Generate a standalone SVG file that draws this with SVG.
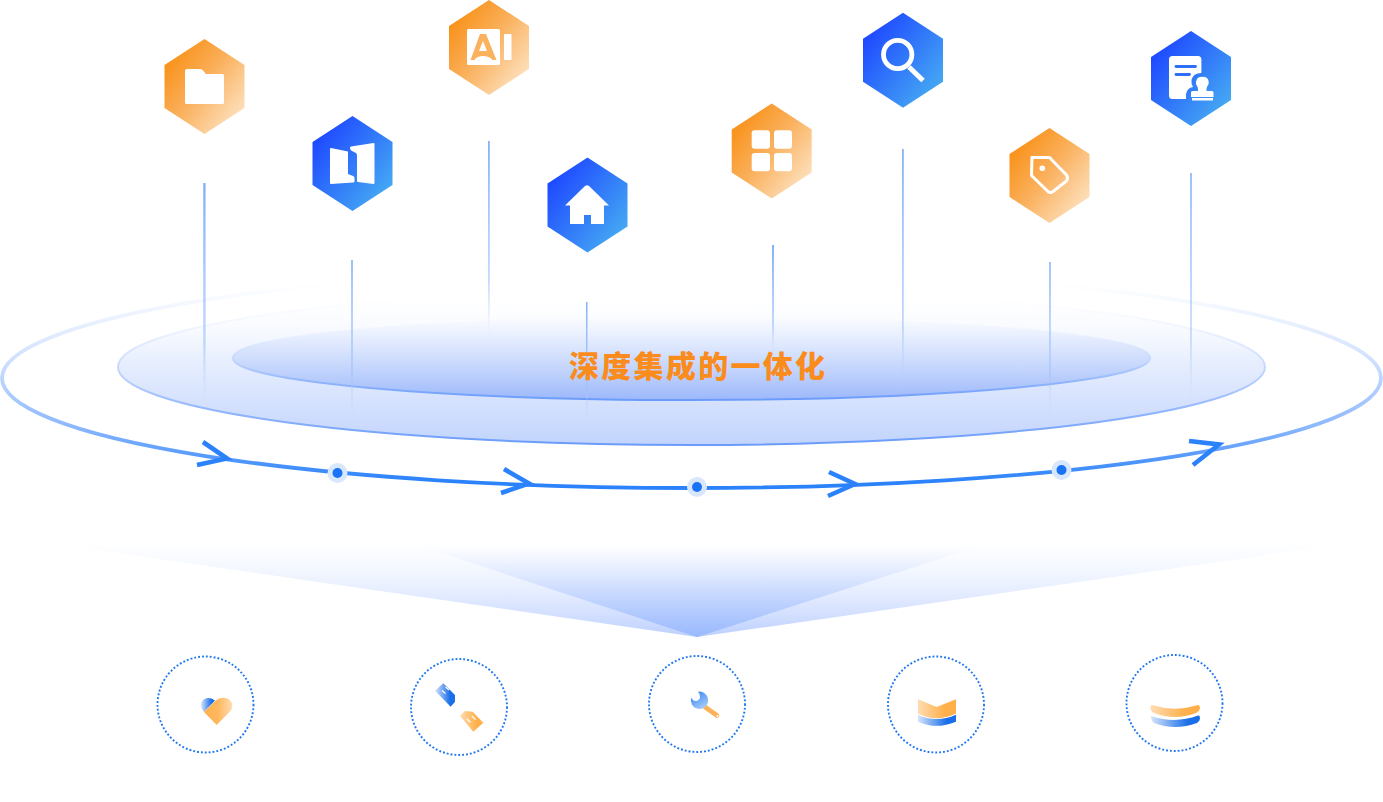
<svg xmlns="http://www.w3.org/2000/svg" width="1383" height="802" viewBox="0 0 1383 802">
<style>
.w{fill:#fff}
.ws{fill:none;stroke:#fff}
.arrow{fill:none;stroke:#2b82fb;stroke-width:4.6}
.halo{fill:#d9e7fc}
.dot{fill:#1a72f5}
.ring{fill:none;stroke:#1f78f0;stroke-width:1.9;stroke-dasharray:1.9 2}
.vl{fill:url(#vline)}
.label{font-family:"Noto Sans CJK SC","Liberation Sans",sans-serif;font-weight:900;font-size:30px;letter-spacing:2.3px;fill:#fa8c1d}
</style>
<defs>
<linearGradient id="org" x1="0.12" y1="0.18" x2="0.88" y2="0.88"><stop offset="0" stop-color="#f9931d"/><stop offset="0.45" stop-color="#fab05c"/><stop offset="1" stop-color="#fde0bd"/></linearGradient>
<linearGradient id="blu" x1="0.12" y1="0.18" x2="0.88" y2="0.88"><stop offset="0" stop-color="#1f4bff"/><stop offset="1" stop-color="#45a9f3"/></linearGradient>
<linearGradient id="vline" x1="0" y1="0" x2="0" y2="1"><stop offset="0" stop-color="#7fadf8" stop-opacity="0.95"/><stop offset="0.72" stop-color="#9dc0fb" stop-opacity="0.6"/><stop offset="1" stop-color="#bcd4fc" stop-opacity="0"/></linearGradient>
<linearGradient id="stO" x1="0" y1="0" x2="0" y2="1"><stop offset="0.07" stop-color="#d6e4ff" stop-opacity="0"/><stop offset="0.42" stop-color="#cfe0ff"/><stop offset="0.72" stop-color="#8cb8fd"/><stop offset="0.97" stop-color="#2b82fb"/></linearGradient>
<linearGradient id="stM" x1="0" y1="0" x2="0" y2="1"><stop offset="0" stop-color="#fff" stop-opacity="0"/><stop offset="0.5" stop-color="#c5d8fd"/><stop offset="1" stop-color="#6a9bfb"/></linearGradient>
<linearGradient id="fiM" x1="0" y1="0" x2="0" y2="1"><stop offset="0" stop-color="#fff" stop-opacity="0"/><stop offset="0.45" stop-color="#e8effe"/><stop offset="1" stop-color="#c2d4fd"/></linearGradient>
<linearGradient id="fiI" x1="0" y1="0" x2="0" y2="1"><stop offset="0" stop-color="#d6e3fe" stop-opacity="0"/><stop offset="0.3" stop-color="#cddcfd" stop-opacity="0.45"/><stop offset="1" stop-color="#9cb8fb"/></linearGradient>
<linearGradient id="fun" x1="0" y1="0" x2="0" y2="1"><stop offset="0" stop-color="#dfe9ff" stop-opacity="0"/><stop offset="1" stop-color="#bccffe"/></linearGradient>
<linearGradient id="fun2" x1="0" y1="0" x2="0" y2="1"><stop offset="0" stop-color="#c8d9ff" stop-opacity="0"/><stop offset="1" stop-color="#9ab9fd"/></linearGradient>
<linearGradient id="iB" x1="0" y1="0" x2="1" y2="0"><stop offset="0" stop-color="#d5e4fb"/><stop offset="0.75" stop-color="#1a6fe8"/></linearGradient>
<linearGradient id="iW" x1="0" y1="0" x2="0.6" y2="1"><stop offset="0" stop-color="#2b7ff0"/><stop offset="1" stop-color="#a5caf8"/></linearGradient>
<linearGradient id="iO" x1="0" y1="0" x2="1" y2="0"><stop offset="0" stop-color="#ffdcb2"/><stop offset="0.7" stop-color="#ffb04a"/></linearGradient>
<linearGradient id="iOr" x1="0" y1="0" x2="1" y2="0"><stop offset="0" stop-color="#ffb04a"/><stop offset="0.5" stop-color="#ffb860"/><stop offset="1" stop-color="#ffdcb2"/></linearGradient>
<path id="hex" d="M0,-47.5L40,-21.5V21.5L0,47.5L-40,21.5V-21.5Z"/>
</defs>

<g id="platform">
<ellipse cx="691.5" cy="378" rx="689.5" ry="110" fill="none" stroke="url(#stO)" stroke-width="3.8"/>
<ellipse cx="691.5" cy="367" rx="573.5" ry="78" fill="url(#fiM)" stroke="url(#stM)" stroke-width="2"/>
<ellipse cx="691.5" cy="358" rx="458.5" ry="42" fill="url(#fiI)" stroke="url(#stM)" stroke-width="2"/>
</g>

<g id="connectors">
<rect class="vl" x="203.2" y="183" width="2.4" height="222"/>
<rect class="vl" x="351.2" y="260" width="1.6" height="160"/>
<rect class="vl" x="488" y="141" width="1.8" height="194"/>
<rect class="vl" x="586" y="302" width="1.5" height="120"/>
<rect class="vl" x="772" y="245" width="2" height="110"/>
<rect class="vl" x="902" y="149" width="1.8" height="246"/>
<rect class="vl" x="1049.2" y="262" width="1.5" height="155"/>
<rect class="vl" x="1190.2" y="173" width="1.6" height="230"/>
</g>

<g id="flow-arrows">
<path class="arrow" d="M203,442L227,458.500L197,465"/>
<path class="arrow" d="M504,469L529,483.500L501,493"/>
<path class="arrow" d="M829,472L855,484L828,496"/>
<path class="arrow" d="M1189,441L1219,444.500L1193,465"/>
</g>

<g id="flow-dots">
<circle class="halo" cx="337.500" cy="473" r="10"/><circle class="dot" cx="337.500" cy="473" r="5"/>
<circle class="halo" cx="697" cy="487" r="10"/><circle class="dot" cx="697" cy="487" r="5"/>
<circle class="halo" cx="1061.500" cy="470" r="10"/><circle class="dot" cx="1061.500" cy="470" r="5"/>
</g>

<text id="title" class="label" x="569" y="377">深度集成的一体化</text>

<g id="funnel">
<path d="M50,543H1350L697,637Z" fill="url(#fun)"/>
<path d="M420,546H980L697,637Z" fill="url(#fun2)"/>
</g>

<g id="node-folder"><use href="#hex" x="204.500" y="86.500" fill="url(#org)"/>
<path class="w" d="M187,69H200Q202,69 203.500,71L206,74H222.500Q224,74 224,75.500V102.500Q224,104 222.500,104H186.500Q185,104 185,102.500V71Q185,69 187,69Z"/></g>

<g id="node-book"><use href="#hex" x="352.500" y="163.500" fill="url(#blu)"/>
<path class="w" d="M330,149Q330,148 331,148L348,151.500V174L353,176Q354.500,176.500 354.500,178V181.500Q354.500,182.500 353,182.500L331,184Q330,184 330,183Z"/>
<path class="w" d="M351,146.500L373.500,143Q374.500,143 374.500,144V183Q374.500,184 373.500,184L358,182Q357,182 357,181V155Q357,153 355,152.500L352,151Q350,150 350,148Q350,146.700 351,146.500Z"/></g>

<g id="node-ai"><use href="#hex" x="489" y="47.500" fill="url(#org)"/>
<rect class="w" x="467" y="29" width="33" height="36" rx="1.500"/>
<rect class="w" x="504" y="34" width="7.500" height="26" rx="1"/>
<path fill="#fbb25f" fill-rule="evenodd" d="M480,34H486L496.500,60H492.500C489,54.500 477,54.500 474.500,60H470.500ZM483,41L479,51H487Z"/></g>

<g id="node-home"><use href="#hex" x="587.500" y="205" fill="url(#blu)"/>
<path class="w" d="M585,186Q587,184.500 589,186L609,205.500H604V224H591V215H584V224H570V205.500H565Z"/></g>

<g id="node-apps"><use href="#hex" x="771.700" y="151" fill="url(#org)"/>
<rect class="w" x="751.700" y="130.300" width="18.300" height="18.500" rx="3"/>
<rect class="w" x="774" y="130.300" width="18" height="18.500" rx="3"/>
<rect class="w" x="751.700" y="153" width="18.300" height="18.300" rx="3"/>
<rect class="w" x="774" y="153" width="18" height="18.300" rx="3"/></g>

<g id="node-search"><use href="#hex" x="903" y="60.300" fill="url(#blu)"/>
<circle class="ws" cx="897.700" cy="54.500" r="14.200" stroke-width="4.800"/>
<path class="ws" stroke-width="5" d="M909,67L923,80.500"/></g>

<g id="node-tag"><use href="#hex" x="1049.500" y="175.500" fill="url(#org)"/>
<path class="ws" stroke-width="3" stroke-linejoin="round" d="M1032,157.500H1049.500L1066.500,175Q1068.500,178 1066.500,181L1053,191.500Q1050.500,193.500 1048,191.500L1031.500,175.500Z"/>
<circle class="w" cx="1042.300" cy="168.300" r="2.800"/></g>

<g id="node-stamp"><use href="#hex" x="1191" y="78.500" fill="url(#blu)"/>
<path class="w" d="M1172.500,56H1198Q1201.400,56 1201.400,59.500V73Q1193,73 1191.500,80Q1191,84 1193,87Q1187,88 1186,94V99H1172.500Q1169,99 1169,95.500V59.500Q1169,56 1172.500,56Z"/>
<path fill="none" stroke="#2f6ff8" stroke-width="2.800" stroke-linecap="round" d="M1176,66.500H1195.500M1176,74.500H1189.500"/>
<path class="w" d="M1198,91V89Q1198,87.500 1197,86Q1195.500,84 1196,82Q1196.500,76.700 1202.400,76.700Q1208.500,76.700 1208.700,82Q1209,84 1207.500,86Q1206.500,87.500 1206.500,89V91H1212Q1213.500,91 1213.500,92.500V97H1191V92.500Q1191,91 1192.500,91Z"/>
<rect class="w" x="1192" y="98" width="21" height="2.500"/></g>

<g id="node-heart"><circle class="ring" cx="205.500" cy="704.500" r="48"/>
<path fill="url(#iB)" d="M204,712L201.500,708Q200,703 203,700Q208,696 215,700.500Z"/>
<path fill="url(#iOr)" d="M204,712L214,702Q218.500,697.500 224,697.700Q232,698.500 232.300,706Q232.300,709 230,711.500L216.700,725Z"/></g>

<g id="node-ruler"><circle class="ring" cx="459" cy="707" r="48"/>
<path fill="url(#iB)" d="M443.300,683.300L455,695V701.700L450.700,706.700L435,690.700Z"/>
<path fill="url(#iO)" d="M460,716L465,711L472.700,711.700L483.300,722.700L473.300,731.700Z"/>
<path class="ws" stroke-width="1.200" d="M442,690.500L445.500,693.500M445.500,687L449,690M467,719L470.500,722.500M472,716L475.500,719.500"/></g>

<g id="node-wrench"><circle class="ring" cx="697" cy="704" r="48"/>
<path fill="none" stroke="#fdb25a" stroke-width="4.600" stroke-linecap="round" d="M705,707L717,715.500"/>
<path fill="url(#iW)" d="M698,691.700A8.700,8.700 0 1 1 691.200,697.500Q693,701 696,701Q700,700 700,697Q700,693.500 698,691.700Z"/>
<circle class="w" cx="717.500" cy="716" r="1"/></g>

<g id="node-layers"><circle class="ring" cx="936" cy="704.500" r="48"/>
<path fill="url(#iO)" d="M918,699.300L936.600,707L956,699.300V713.500Q936,723 918,713.500Z"/>
<path fill="url(#iB)" d="M918,714.700Q936,723.500 956,714.700V721.700Q936,730 918,721.700Z"/></g>

<g id="node-stack"><circle class="ring" cx="1174.500" cy="703" r="48"/>
<path fill="url(#iO)" d="M1150.500,707Q1151,704 1154,705.500Q1175,712 1196,705.500Q1199.500,704 1200,707.500Q1200,711 1196,713Q1175,721 1154,713Q1150,711 1150.500,707Z"/>
<path fill="url(#iB)" d="M1151,716Q1175,724 1198,715.500Q1200,715 1200,718.500Q1200,721 1197,723Q1175,731 1154,723Q1151,721 1151,716Z"/></g>
</svg>
